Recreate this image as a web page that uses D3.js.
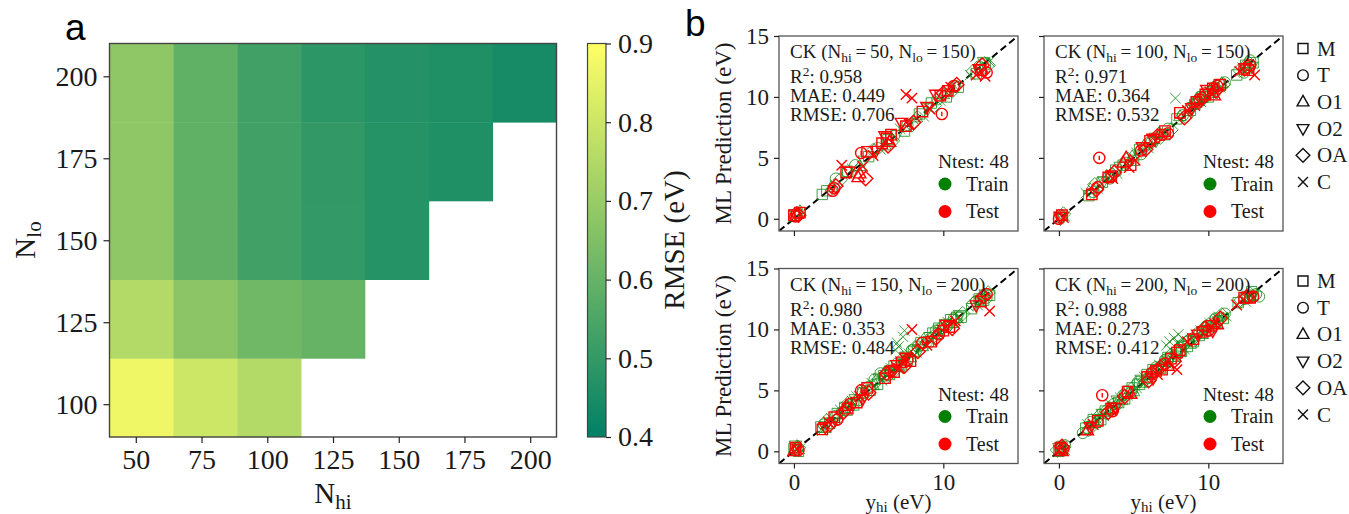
<!DOCTYPE html>
<html><head><meta charset="utf-8">
<script src="https://cdn.jsdelivr.net/npm/d3@7"></script>
<style>body{margin:0;background:#fff}</style></head>
<body>
<svg id="c" width="1349" height="514" xmlns="http://www.w3.org/2000/svg"></svg>
<script>
// ---------------- DATA ----------------
const nHi = [50, 75, 100, 125, 150, 175, 200];
const nLo = [100, 125, 150, 175, 200];
// RMSE (eV) per N_lo row, columns follow nHi; null = not computed
const rmse100 = [0.870, 0.800, 0.750, null, null, null, null];
const rmse125 = [0.750, 0.673, 0.620, 0.600, null, null, null];
const rmse150 = [0.680, 0.590, 0.527, 0.500, 0.475, null, null];
const rmse175 = [0.680, 0.588, 0.525, 0.496, 0.475, 0.460, null];
const rmse200 = [0.680, 0.588, 0.525, 0.486, 0.470, 0.460, 0.443];
const cbarTicks = [0.4, 0.5, 0.6, 0.7, 0.8, 0.9];

const markerNames = ["M", "T", "O1", "O2", "OA", "C"];
const panelNhi = [50, 100, 150, 200];
const panelNlo = [150, 150, 200, 200];
const panelR2 = ["0.958", "0.971", "0.980", "0.988"];
const panelMAE = ["0.449", "0.364", "0.353", "0.273"];
const panelRMSE = ["0.706", "0.532", "0.484", "0.412"];
const panelNtest = [48, 48, 48, 48];
const yTicksB = [0, 5, 10, 15];
const xTicksB = [0, 10];

// points: [y_hi, prediction, marker index]
const train1 = [[0.0,0.2,0],[0.2,0.5,1],[0.3,0.3,4],[0.4,0.6,2],[0.1,0.4,3],
[1.9,2.0,0],[2.2,2.3,0],[2.5,2.6,2],[2.8,3.3,1],[3.1,3.2,4],
[3.6,3.9,0],[3.9,4.1,5],[4.1,4.4,1],[4.4,4.3,2],[4.7,4.8,3],
[5.0,5.1,0],[5.3,5.6,4],[5.6,5.8,1],[5.8,5.7,5],[6.1,6.0,2],[6.3,6.5,0],[6.6,6.4,4],[6.9,6.9,3],
[7.1,7.4,5],[7.4,7.2,0],[7.6,7.7,1],[7.9,7.7,4],[8.2,8.3,2],[8.4,8.6,0],[8.7,8.4,5],
[9.0,9.1,3],[9.2,9.5,0],[9.4,9.3,4],[9.6,9.8,1],[9.8,9.7,5],[10.0,10.2,2],[10.2,10.0,0],[10.4,10.6,3],[10.6,10.5,4],[10.8,10.9,1],[11.0,10.8,0],
[11.8,11.8,5],[12.0,12.1,4],[12.2,11.9,0],[12.4,12.5,1],[12.6,12.3,2],[12.8,12.7,0],[13.0,12.6,4],[13.1,12.9,5],[12.7,12.9,3]];
const test1 = [[0.0,0.3,0],[0.1,0.2,1],[0.2,0.4,2],[0.3,0.3,4],[0.4,0.5,0],
[2.6,2.3,1],[2.8,2.7,4],[2.7,2.5,1],
[3.2,4.4,5],[3.5,3.8,0],[3.7,3.9,3],[4.3,3.4,2],[4.4,3.7,2],[4.8,3.3,4],[4.6,4.3,5],
[4.5,5.4,1],[4.9,5.5,0],[5.3,5.2,5],[5.5,5.6,3],
[5.9,6.2,0],[6.2,6.6,0],[6.4,6.3,2],[6.1,6.8,3],[6.5,6.9,0],[6.3,6.0,4],
[7.2,7.9,3],[7.5,7.6,0],[7.7,7.8,5],[8.0,7.9,4],
[7.5,10.2,5],[7.9,9.9,5],
[8.6,8.8,0],[8.9,9.2,3],[9.1,9.0,5],
[9.9,8.6,1],
[9.5,10.2,3],[9.8,10.1,0],[10.0,10.3,4],[10.3,10.5,0],[10.5,10.8,5],[10.7,10.9,1],[10.9,11.0,4],
[12.2,11.8,5],[12.5,12.2,0],[12.6,12.6,4],[12.8,11.7,5],[12.9,12.0,1],[12.4,12.3,3]];

const train2 = [[0.0,0.1,0],[0.1,0.3,1],[0.2,0.2,2],[0.3,0.4,4],[0.1,0.0,3],[0.4,0.2,5],
[1.8,2.1,5],[2.0,1.9,0],[2.1,2.4,2],[2.3,2.2,1],[2.4,2.8,4],[2.6,2.5,5],[2.9,3.0,0],[3.0,3.1,3],
[3.2,3.5,2],[3.4,3.3,1],[3.6,3.6,4],[3.8,4.0,0],[3.9,3.7,5],[4.1,4.3,3],
[4.3,4.4,0],[4.5,4.6,1],[4.6,4.9,4],[4.9,5.1,2],[5.0,4.8,0],
[5.2,5.4,5],[5.4,5.7,0],[5.5,5.3,1],[5.7,6.0,2],[5.9,6.1,4],[6.0,5.8,5],[6.2,6.3,1],[6.4,6.6,0],[6.5,6.4,3],[6.7,7.0,2],[6.8,6.7,4],[7.0,7.1,5],[7.1,6.9,0],[7.3,7.4,1],[7.5,7.3,4],
[7.8,9.9,5],
[7.9,8.2,0],[8.1,8.4,2],[8.3,8.5,1],[8.5,8.4,4],[8.6,8.8,5],[8.8,8.9,0],[9.0,9.2,3],
[9.1,9.4,0],[9.2,9.8,2],[9.3,9.5,1],[9.4,9.9,4],[9.5,9.6,5],[9.6,10.0,0],[9.7,9.8,3],[9.8,10.3,1],[9.9,10.1,4],[10.0,10.0,0],[10.1,10.5,2],[10.2,10.3,5],[10.3,10.4,0],[10.4,10.8,1],[10.5,10.6,4],[10.6,10.4,3],[10.7,11.0,0],[10.8,10.8,5],[10.9,11.1,2],[11.0,11.0,4],[11.1,11.2,1],
[11.9,11.8,0],[12.1,12.2,4],[12.3,12.4,5],[12.4,12.0,1],[12.5,12.6,0],[12.6,12.3,2],[12.7,12.8,4],[12.9,12.5,3],[13.0,12.8,0],[12.8,13.0,1]];
const test2 = [[0.1,0.2,3],[0.2,0.3,0],[0.3,0.1,5],[0.0,0.0,1],
[2.2,2.0,0],[2.5,2.4,4],[2.6,2.6,1],[2.7,5.0,1],
[3.3,3.4,0],[3.5,3.5,0],[3.7,3.8,4],[3.6,3.3,5],
[4.3,4.6,2],[4.5,5.0,2],[4.7,4.2,5],[4.8,4.4,0],[5.1,4.8,5],
[5.5,5.6,1],[5.8,5.7,4],[5.6,5.9,3],[6.1,6.4,0],[6.3,6.6,3],[6.6,6.8,4],[6.9,6.9,1],[7.1,7.2,0],[7.3,7.0,1],
[8.1,8.7,0],[8.4,8.3,4],[8.6,8.9,5],[8.9,9.1,3],
[9.2,9.6,0],[9.4,9.8,1],[9.6,9.9,4],[9.8,10.2,0],[9.9,10.6,3],[10.1,10.4,5],[10.3,10.7,0],[10.5,10.5,4],[10.6,10.9,1],[10.8,11.0,0],[10.4,10.1,2],
[12.1,12.1,5],[12.4,12.3,0],[12.6,12.5,4],[12.8,12.6,1],[13.1,11.8,5],[12.7,12.2,0],[9.1,9.3,5]];

const train3 = [[0.0,0.2,0],[0.1,0.1,1],[0.2,0.4,2],[0.3,0.3,4],[0.4,0.2,5],[0.1,0.5,3],[0.3,0.0,0],
[1.8,2.0,0],[1.9,1.7,5],[2.0,2.2,1],[2.1,1.9,2],[2.2,2.5,4],[2.4,2.3,0],[2.5,2.7,5],[2.6,2.4,3],[2.8,2.9,1],[2.9,3.1,0],[3.0,2.8,4],
[3.1,3.4,5],[3.2,3.2,1],[3.4,3.6,0],[3.5,3.3,2],[3.6,3.9,4],[3.7,3.6,1],[3.9,4.1,5],[4.0,3.8,0],[4.1,4.3,3],[4.2,4.5,5],[4.3,4.2,1],[4.4,4.7,2],
[4.6,4.8,0],[4.7,5.1,5],[4.9,4.9,4],[5.0,5.3,1],[5.1,5.0,0],[5.2,5.6,5],[5.3,5.4,2],[5.4,5.9,1],[5.5,5.7,4],[5.6,5.5,0],[5.7,6.0,3],[5.8,6.4,1],[5.9,5.8,5],[6.0,6.2,0],
[6.1,6.5,2],[6.2,6.1,4],[6.3,6.6,1],[6.4,6.3,0],[6.5,6.8,5],[6.6,6.5,3],[6.7,7.0,0],[6.8,6.7,4],[6.9,7.2,1],[7.0,6.9,2],[7.1,7.4,5],[7.2,7.1,0],[7.3,7.6,4],[7.4,7.3,1],[7.5,7.8,3],[7.6,7.5,0],[7.7,8.0,5],[7.8,7.7,2],[7.9,8.3,1],
[6.8,8.3,5],[7.0,8.6,5],[7.3,9.4,5],[7.4,9.9,5],[6.9,8.9,5],
[8.0,8.2,0],[8.1,8.5,4],[8.2,8.1,5],[8.3,8.6,1],[8.4,8.4,3],[8.5,8.9,0],[8.6,8.6,2],[8.7,9.1,5],[8.8,8.8,4],[8.9,9.3,1],[9.0,9.0,0],
[9.1,9.4,3],[9.2,9.2,5],[9.3,9.7,0],[9.4,9.5,4],[9.5,9.9,1],[9.6,9.6,2],[9.7,10.1,0],[9.8,9.8,5],[9.9,10.2,4],[10.0,10.0,3],[10.1,10.4,0],[10.2,10.2,1],[10.3,10.6,5],[10.4,10.4,4],[10.5,10.8,0],[10.6,10.5,2],[10.7,10.9,1],[10.8,10.7,4],[10.9,11.0,0],[11.0,10.9,5],[11.1,11.2,3],[11.2,11.0,0],[11.3,11.3,4],
[11.9,11.7,0],[12.0,12.1,4],[12.2,12.3,1],[12.3,12.0,5],[12.4,12.5,0],[12.5,12.2,2],[12.6,12.7,4],[12.7,12.4,0],[12.8,12.9,3],[12.9,12.6,1],[13.0,13.0,4],[13.1,12.8,0]];
const test3 = [[0.0,0.0,2],[0.1,0.3,0],[0.2,0.2,5],[0.3,0.1,1],
[1.9,1.8,0],[2.1,2.0,3],[2.3,2.4,5],[2.4,2.2,4],[2.7,2.8,0],[2.9,2.6,1],
[3.3,3.2,4],[3.5,3.7,2],[3.6,3.5,0],[3.8,3.9,1],[4.2,4.0,0],[4.4,4.5,5],[4.6,4.3,3],[4.5,5.0,1],[4.9,5.2,0],[5.0,4.8,4],
[6.1,6.0,0],[6.2,6.4,4],[6.5,6.6,1],[6.7,6.5,0],[6.9,7.1,3],[7.0,6.8,5],[7.2,7.3,0],[7.4,7.0,4],[7.6,7.5,1],[7.8,7.4,0],[7.5,7.7,3],
[7.9,10.0,5],[8.3,8.2,4],[8.6,8.9,1],[8.9,8.7,5],[9.2,9.0,0],[9.5,9.3,4],[9.7,9.6,1],
[10.0,9.9,0],[10.2,10.4,3],[10.4,10.2,0],[10.6,10.1,4],[10.8,10.7,5],
[12.2,12.0,3],[12.5,12.3,0],[12.7,12.7,4],[13.1,11.5,5],[12.9,12.9,1]];

const train4 = [[0.0,0.0,0],[0.1,0.2,1],[0.2,0.1,2],[0.3,0.3,4],[0.4,0.1,5],[0.0,0.3,3],[0.2,0.4,0],[0.4,0.5,1],[-0.1,0.1,4],
[1.6,1.5,1],[1.8,1.9,0],[1.9,2.2,5],[2.0,1.8,4],[2.1,2.4,1],[2.2,2.1,3],[2.3,2.6,0],[2.4,2.3,2],[2.5,2.7,5],[2.6,2.4,1],[2.7,2.9,4],[2.8,2.6,0],[2.9,3.1,3],[3.0,2.9,5],
[3.1,3.3,0],[3.2,3.1,1],[3.3,3.5,4],[3.4,3.4,2],[3.5,3.8,5],[3.6,3.6,0],[3.7,3.9,1],[3.8,3.7,4],[3.9,4.2,3],[4.0,4.0,0],[4.1,4.4,5],[4.2,4.2,2],[4.3,4.6,1],[4.4,4.3,0],[4.5,4.8,4],[4.6,4.6,5],[4.7,5.0,3],[4.8,4.8,1],[4.9,5.2,0],[5.0,4.9,2],
[5.1,5.4,4],[5.2,5.2,5],[5.3,5.7,1],[5.4,5.5,0],[5.5,5.9,3],[5.6,5.6,2],[5.7,6.1,5],[5.8,5.9,4],[5.9,6.3,0],[6.0,6.0,1],
[6.1,6.4,2],[6.2,6.2,5],[6.3,6.7,0],[6.4,6.5,4],[6.5,6.9,1],[6.6,6.6,3],[6.7,7.1,5],[6.8,6.8,0],[6.9,7.3,2],[7.0,7.0,4],[7.1,7.5,1],[7.2,7.2,5],[7.3,7.7,0],[7.4,7.4,3],[7.5,7.9,4],[7.6,7.6,1],[7.7,8.1,5],[7.8,7.8,0],[7.9,8.3,2],[8.0,8.0,4],
[7.4,9.0,5],[7.7,9.3,5],[8.0,9.6,5],[7.2,8.7,5],[8.3,9.2,5],[7.9,8.9,5],
[8.1,8.5,1],[8.2,8.2,0],[8.3,8.7,3],[8.4,8.4,5],[8.5,8.9,4],[8.6,8.6,0],[8.7,9.1,1],[8.8,8.8,2],[8.9,9.3,5],[9.0,9.0,0],[9.1,9.4,4],[9.2,9.2,3],[9.3,9.7,1],[9.4,9.5,0],[9.5,9.9,5],[9.6,9.6,2],[9.7,10.1,4],[9.8,9.9,0],[9.9,10.3,1],[10.0,10.0,3],[10.1,10.5,5],[10.2,10.2,0],[10.3,10.7,4],[10.4,10.4,2],[10.5,10.9,1],[10.6,10.6,0],[10.7,11.0,5],[10.8,10.8,3],[10.9,11.2,4],[11.0,10.9,0],[11.1,11.3,1],[11.2,11.1,5],
[12.0,12.2,0],[12.2,12.4,4],[12.4,12.5,1],[12.5,12.3,5],[12.6,12.7,0],[12.7,12.6,2],[12.8,12.9,4],[12.9,12.7,3],[13.0,12.8,0],[13.2,12.9,1],[13.4,12.7,1],[12.9,13.1,0]];
const test4 = [[0.0,0.1,5],[0.1,0.3,0],[0.2,0.0,2],[0.3,0.2,1],[0.2,0.4,4],
[1.9,1.7,2],[2.1,2.0,3],[2.3,2.2,5],[2.6,2.5,0],
[2.9,4.6,1],
[3.3,3.2,4],[3.5,3.5,0],[3.6,3.3,1],[3.8,3.6,3],
[4.4,4.5,4],[4.6,4.9,0],[4.8,4.7,2],
[5.9,6.1,0],[6.0,5.8,4],[6.2,6.4,1],[6.3,6.0,3],[6.5,6.6,0],[6.6,6.3,5],[6.8,6.9,4],[6.9,6.7,0],[7.1,7.2,1],[7.3,7.0,2],[7.5,7.6,0],[7.7,7.4,4],[7.9,8.1,0],[8.1,8.3,0],
[7.9,6.7,5],
[8.6,9.0,5],[9.0,9.2,0],[9.3,9.6,3],[9.6,9.8,0],[9.8,10.1,4],[10.0,9.9,1],[10.2,10.3,0],[10.4,10.5,5],[10.6,10.4,2],[10.8,10.9,4],[10.3,9.9,3],
[11.9,12.0,5],[12.4,12.6,0],[12.6,12.7,4],[12.8,12.6,0],[13.0,12.7,1]];

const trainSets = [train1, train2, train3, train4];
const testSets = [test1, test2, test3, test4];

// ---------------- DRAW ----------------
const svg = d3.select("#c");
const SERIF = "'Liberation Serif','DejaVu Serif',serif";
const SANS = "'Liberation Sans',Arial,sans-serif";
const TXT = "#1a1a1a";

// panel letters
svg.append("text").attr("x", 65).attr("y", 40).attr("font-family", SANS).attr("font-size", 37).text("a");
svg.append("text").attr("x", 685).attr("y", 36).attr("font-family", SANS).attr("font-size", 37).text("b");

// ---- heatmap ----
const hx = d3.scaleLinear().domain([40, 210]).range([109.5, 556.5]);
const hy = d3.scaleLinear().domain([90, 210]).range([437, 43.5]);
const bx = d3.scaleBand().domain(nHi).range([hx(40), hx(210)]);
const by = d3.scaleBand().domain(nLo.slice().reverse()).range([hy(210), hy(90)]);
const cmap = d3.scaleLinear().domain([0.4, 0.9]).range(["#008066", "#ffff66"]).clamp(true);
const rows = [rmse100, rmse125, rmse150, rmse175, rmse200];
const cells = [];
rows.forEach((r, j) => r.forEach((v, i) => { if (v != null) cells.push({ lo: nLo[j], hi: nHi[i], v }); }));
const hm = svg.append("g");
hm.selectAll("rect").data(cells).join("rect")
  .attr("x", d => bx(d.hi)).attr("y", d => by(d.lo))
  .attr("width", bx.bandwidth() + 0.4).attr("height", by.bandwidth() + 0.4)
  .attr("fill", d => cmap(d.v));
hm.append("rect").attr("x", hx(40)).attr("y", hy(210)).attr("width", hx(210) - hx(40)).attr("height", hy(90) - hy(210))
  .attr("fill", "none").attr("stroke", "#444").attr("stroke-width", 1.4);

function styleAxis(g, fs) {
  g.select(".domain").remove();
  g.selectAll(".tick line").attr("stroke", "#222").attr("stroke-width", 1.2);
  g.selectAll(".tick text").attr("font-family", SERIF).attr("font-size", fs).attr("fill", TXT);
}
svg.append("g").attr("transform", `translate(0,${hy(90)})`)
  .call(d3.axisBottom(hx).tickValues(nHi).tickSize(6).tickPadding(6)).call(g => styleAxis(g, 28));
svg.append("g").attr("transform", `translate(${hx(40)},0)`)
  .call(d3.axisLeft(hy).tickValues(nLo).tickSize(6).tickPadding(6)).call(g => styleAxis(g, 28));

// axis labels heatmap
const nhiLab = svg.append("text").attr("x", 333).attr("y", 503).attr("text-anchor", "middle")
  .attr("font-family", SERIF).attr("font-size", 29).attr("fill", TXT);
nhiLab.append("tspan").text("N");
nhiLab.append("tspan").attr("font-size", 21).attr("dy", 6).text("hi");
const nloLab = svg.append("text").attr("transform", "translate(35,240) rotate(-90)").attr("text-anchor", "middle")
  .attr("font-family", SERIF).attr("font-size", 29).attr("fill", TXT);
nloLab.append("tspan").text("N");
nloLab.append("tspan").attr("font-size", 21).attr("dy", 6).text("lo");

// ---- colorbar ----
const cbX = 587.5, cbW = 18.5;
const cy = d3.scaleLinear().domain([0.4, 0.9]).range([437, 43.5]);
const defs = svg.append("defs");
const grad = defs.append("linearGradient").attr("id", "cbg").attr("x1", 0).attr("y1", 1).attr("x2", 0).attr("y2", 0);
grad.selectAll("stop").data(cbarTicks).join("stop")
  .attr("offset", d => (d - 0.4) / 0.5).attr("stop-color", d => cmap(d));
svg.append("rect").attr("x", cbX).attr("y", cy(0.9)).attr("width", cbW).attr("height", cy(0.4) - cy(0.9))
  .attr("fill", "url(#cbg)").attr("stroke", "#444").attr("stroke-width", 1.2);
svg.append("g").attr("transform", `translate(${cbX + cbW},0)`)
  .call(d3.axisRight(cy).tickValues(cbarTicks).tickFormat(d3.format(".1f")).tickSize(5).tickPadding(7))
  .call(g => styleAxis(g, 28));
svg.append("text").attr("transform", "translate(684,240) rotate(-90)").attr("text-anchor", "middle")
  .attr("font-family", SERIF).attr("font-size", 29).attr("fill", TXT).text("RMSE (eV)");

// ---- scatter panels ----
function markerPath(m) {
  switch (m) {
    case 0: return "M-5.2,-5.2H5.2V5.2H-5.2Z";
    case 1: return "M5.6,0A5.6,5.6 0 1,1 -5.6,0A5.6,5.6 0 1,1 5.6,0Z";
    case 2: return "M0,-6.8L6.2,4.2L-6.2,4.2Z";
    case 3: return "M0,6.8L6.2,-4.2L-6.2,-4.2Z";
    case 4: return "M0,-7.2L7.2,0L0,7.2L-7.2,0Z";
    default: return "M-5.2,-5.2L5.2,5.2M-5.2,5.2L5.2,-5.2";
  }
}
const lefts = [779, 1044, 779, 1044];
const tops = [36, 36, 268.5, 268.5];
const PW = 239, PH = 195;
const EQ = "\u2009=\u2009";

for (let p = 0; p < 4; p++) {
  const L = lefts[p], T = tops[p];
  const x = d3.scaleLinear().domain([-1, 15]).range([L, L + PW]);
  const y = d3.scaleLinear().domain([-1, 15]).range([T + PH, T]);
  const g = svg.append("g");
  const clipId = "clip" + p;
  defs.append("clipPath").attr("id", clipId).append("rect").attr("x", L).attr("y", T).attr("width", PW).attr("height", PH);
  const pl = g.append("g").attr("clip-path", `url(#${clipId})`);

  // annotation text
  const tx = L + 11, fs = 19;
  const t1 = g.append("text").attr("x", tx).attr("y", T + 22).attr("font-family", SERIF).attr("font-size", fs).attr("fill", TXT);
  t1.append("tspan").text("CK (N");
  t1.append("tspan").attr("font-size", 13.5).attr("dy", 4).text("hi");
  t1.append("tspan").attr("dy", -4).text(`${EQ}${panelNhi[p]}, N`);
  t1.append("tspan").attr("font-size", 13.5).attr("dy", 4).text("lo");
  t1.append("tspan").attr("dy", -4).text(`${EQ}${panelNlo[p]})`);
  const t2 = g.append("text").attr("x", tx).attr("y", T + 47).attr("font-family", SERIF).attr("font-size", fs).attr("fill", TXT);
  t2.append("tspan").text("R");
  t2.append("tspan").attr("font-size", 13.5).attr("dy", -7).text("2");
  t2.append("tspan").attr("dy", 7).text(": " + panelR2[p]);
  g.append("text").attr("x", tx).attr("y", T + 66).attr("font-family", SERIF).attr("font-size", fs).attr("fill", TXT).text("MAE: " + panelMAE[p]);
  g.append("text").attr("x", tx).attr("y", T + 85).attr("font-family", SERIF).attr("font-size", fs).attr("fill", TXT).text("RMSE: " + panelRMSE[p]);

  // diagonal
  pl.append("line").attr("x1", x(-1)).attr("y1", y(-1)).attr("x2", x(15)).attr("y2", y(15))
    .attr("stroke", "#000").attr("stroke-width", 2).attr("stroke-dasharray", "7,4");

  // train
  pl.selectAll("path.tr").data(trainSets[p]).join("path").attr("class", "tr")
    .attr("transform", d => `translate(${x(d[0])},${y(d[1])})`).attr("d", d => markerPath(d[2]))
    .attr("fill", "none").attr("stroke", "#118811").attr("stroke-width", 1).attr("stroke-opacity", 0.8);
  // test
  const te = pl.selectAll("g.te").data(testSets[p]).join("g").attr("class", "te")
    .attr("transform", d => `translate(${x(d[0])},${y(d[1])})`);
  te.append("path").attr("d", d => markerPath(d[2]))
    .attr("fill", "none").attr("stroke", "#ff0000").attr("stroke-width", 1.4);
  te.filter(d => d[2] === 1).append("line").attr("x1", 0).attr("x2", 0).attr("y1", -2.2).attr("y2", 2.2)
    .attr("stroke", "#ff0000").attr("stroke-width", 1.4);

  // frame
  g.append("rect").attr("x", L).attr("y", T).attr("width", PW).attr("height", PH)
    .attr("fill", "none").attr("stroke", "#555").attr("stroke-width", 1.3);

  // axes
  const showY = (p % 2 === 0), showX = (p >= 2);
  const ya = g.append("g").attr("transform", `translate(${L},0)`)
    .call(d3.axisLeft(y).tickValues(yTicksB).tickSize(5).tickPadding(5).tickFormat(showY ? d3.format("d") : ""));
  styleAxis(ya, 23);
  const xa = g.append("g").attr("transform", `translate(0,${T + PH})`)
    .call(d3.axisBottom(x).tickValues(xTicksB).tickSize(5).tickPadding(5).tickFormat(showX ? d3.format("d") : ""));
  styleAxis(xa, 23);

  if (showY) {
    g.append("text").attr("transform", `translate(${L - 48},${T + PH / 2}) rotate(-90)`).attr("text-anchor", "middle")
      .attr("font-family", SERIF).attr("font-size", 23).attr("fill", TXT).text("ML Prediction (eV)");
  }
  if (showX) {
    const xl = g.append("text").attr("x", L + PW / 2).attr("y", 509).attr("text-anchor", "middle")
      .attr("font-family", SERIF).attr("font-size", 21).attr("fill", TXT);
    xl.append("tspan").text("y");
    xl.append("tspan").attr("font-size", 15).attr("dy", 3).text("hi");
    xl.append("tspan").attr("dy", -3).text(" (eV)");
  }

  // inner legend
  const lx = L + PW - 9;
  g.append("text").attr("x", lx).attr("y", T + 132).attr("text-anchor", "end")
    .attr("font-family", SERIF).attr("font-size", 19.5).attr("fill", TXT).text("Ntest: " + panelNtest[p]);
  [["Train", "green", 148], ["Test", "red", 175.5]].forEach(([lab, col, dy]) => {
    g.append("circle").attr("cx", L + PW - 73).attr("cy", T + dy).attr("r", 6.5).attr("fill", col);
    g.append("text").attr("x", L + PW - 52).attr("y", T + dy + 6.5).attr("font-family", SERIF)
      .attr("font-size", 20).attr("fill", TXT).text(lab);
  });

  // marker legend on right
  if (p % 2 === 1) {
    markerNames.forEach((nm, k) => {
      const yy = T + 12.5 + k * 26.7;
      g.append("path").attr("transform", `translate(1303,${yy}) scale(0.95)`).attr("d", markerPath(k))
        .attr("fill", "none").attr("stroke", "#111").attr("stroke-width", 1.5);
      g.append("text").attr("x", 1317).attr("y", yy + 7).attr("font-family", SERIF).attr("font-size", 21)
        .attr("fill", TXT).text(nm);
    });
  }
}
</script>
</body></html>
